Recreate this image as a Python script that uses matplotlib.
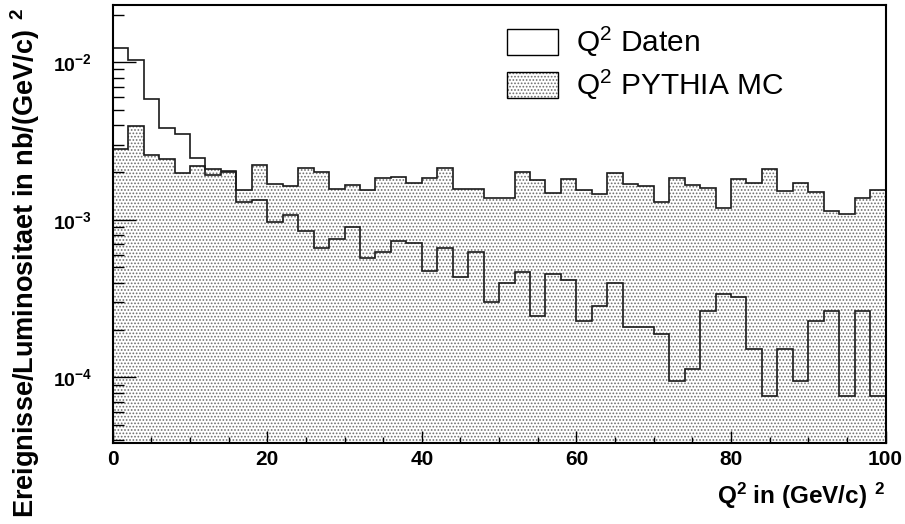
import numpy as np
import matplotlib
matplotlib.use('Agg')
import matplotlib.pyplot as plt
from matplotlib.patches import Patch
from matplotlib.legend_handler import HandlerTuple
from matplotlib.ticker import LogLocator, MultipleLocator, FuncFormatter, NullFormatter

plt.rcParams['font.family'] = ['Liberation Sans', 'DejaVu Sans']
plt.rcParams['font.weight'] = 'bold'
plt.rcParams['mathtext.default'] = 'regular'
plt.rcParams['hatch.linewidth'] = 0.8

# Q^2 binning: 50 bins of 2 (GeV/c)^2
bin_edges = np.linspace(0, 100, 51)

# PYTHIA MC (filled)
mc_values = [
    2.81e-3, 3.96e-3, 2.58e-3, 2.42e-3, 1.99e-3, 2.20e-3, 2.09e-3, 2.04e-3, 1.55e-3, 2.22e-3,
    1.68e-3, 1.64e-3, 2.12e-3, 2.00e-3, 1.56e-3, 1.67e-3, 1.55e-3, 1.83e-3, 1.86e-3, 1.71e-3,
    1.83e-3, 2.12e-3, 1.56e-3, 1.56e-3, 1.38e-3, 1.38e-3, 2.00e-3, 1.79e-3, 1.48e-3, 1.82e-3,
    1.55e-3, 1.46e-3, 1.97e-3, 1.68e-3, 1.64e-3, 1.30e-3, 1.83e-3, 1.66e-3, 1.60e-3, 1.18e-3,
    1.81e-3, 1.71e-3, 2.11e-3, 1.52e-3, 1.71e-3, 1.51e-3, 1.14e-3, 1.09e-3, 1.38e-3, 1.55e-3,
]

# Daten (open)
data_values = [
    1.227e-2, 1.034e-2, 5.82e-3, 3.81e-3, 3.51e-3, 2.48e-3, 1.92e-3, 2.00e-3, 1.30e-3, 1.34e-3,
    9.64e-4, 1.07e-3, 8.49e-4, 6.62e-4, 7.55e-4, 9.04e-4, 5.69e-4, 6.22e-4, 7.37e-4, 7.15e-4,
    4.71e-4, 6.59e-4, 4.35e-4, 6.22e-4, 3.02e-4, 3.95e-4, 4.68e-4, 2.46e-4, 4.53e-4, 4.15e-4,
    2.28e-4, 2.82e-4, 3.95e-4, 2.08e-4, 2.08e-4, 1.89e-4, 9.47e-5, 1.13e-4, 2.65e-4, 3.39e-4,
    3.22e-4, 1.51e-4, 7.57e-5, 1.51e-4, 9.47e-5, 2.27e-4, 2.65e-4, 7.57e-5, 2.65e-4, 7.57e-5,
]

Y_MIN, Y_MAX = 3.85e-5, 2.32e-2
HATCH_GREY = '#6e6e6e'
LINE = '#1a1a1a'

fig = plt.figure(figsize=(9.05, 5.24), dpi=100)
ax = fig.add_axes([0.1245, 0.1552, 0.8540, 0.8359])

# MC: dotted fill + outline
ax.stairs(mc_values, bin_edges, baseline=1e-7, fill=True, facecolor='white',
          edgecolor=HATCH_GREY, hatch='.....', linewidth=0)
ax.stairs(mc_values, bin_edges, baseline=None, color=LINE, lw=1.2)
# data on top
ax.stairs(data_values, bin_edges, baseline=None, color=LINE, lw=1.2)

ax.set_yscale('log')
ax.set_xlim(0, 100)
ax.set_ylim(Y_MIN, Y_MAX)

ax.xaxis.set_major_locator(MultipleLocator(20))
ax.xaxis.set_minor_locator(MultipleLocator(5))
ax.yaxis.set_major_locator(LogLocator(base=10))
ax.yaxis.set_minor_locator(LogLocator(base=10, subs=np.arange(2, 10)))
ax.yaxis.set_major_formatter(FuncFormatter(lambda v, p: r'$10^{%d}$' % round(np.log10(v))))
ax.yaxis.set_minor_formatter(NullFormatter())

ax.tick_params(axis='x', which='major', direction='in', length=8.6, width=1,
               labelsize=15, pad=5)
ax.tick_params(axis='x', which='minor', direction='in', length=4.3, width=1)
ax.tick_params(axis='y', which='major', direction='in', length=16.5, width=1,
               labelsize=14, pad=15)
ax.tick_params(axis='y', which='minor', direction='in', length=8, width=1)
for s in ax.spines.values():
    s.set_linewidth(1.5)

fig.text(885.6 / 905, 1 - 504 / 524, r'Q$^{2}$ in (GeV/c)$\ ^{2}$',
         ha='right', va='baseline', fontsize=17.5)
fig.text(25 / 905, 0.497, r'Ereignisse/Luminositaet in nb/(GeV/c)$\ ^{2}$',
         rotation=90, ha='center', va='center', fontsize=19.5)

h_data = Patch(facecolor='white', edgecolor='black', lw=1)
h_mc = (Patch(facecolor='white', edgecolor=HATCH_GREY, hatch='.....', lw=0),
        Patch(facecolor='none', edgecolor='black', lw=1))
ax.legend([h_data, h_mc], [r'Q$^{2}$ Daten', r'Q$^{2}$ PYTHIA MC'],
          handler_map={tuple: HandlerTuple(ndivide=1, pad=0)},
          loc='upper left', bbox_to_anchor=(507 / 905, 1 - 25 / 524),
          bbox_transform=fig.transFigure, frameon=False,
          prop={'size': 21.5, 'weight': 'normal'},
          handlelength=1.7, handleheight=1.0, handletextpad=0.6,
          labelspacing=0.3, borderpad=0, borderaxespad=0)

fig.savefig('out.png', dpi=100)
